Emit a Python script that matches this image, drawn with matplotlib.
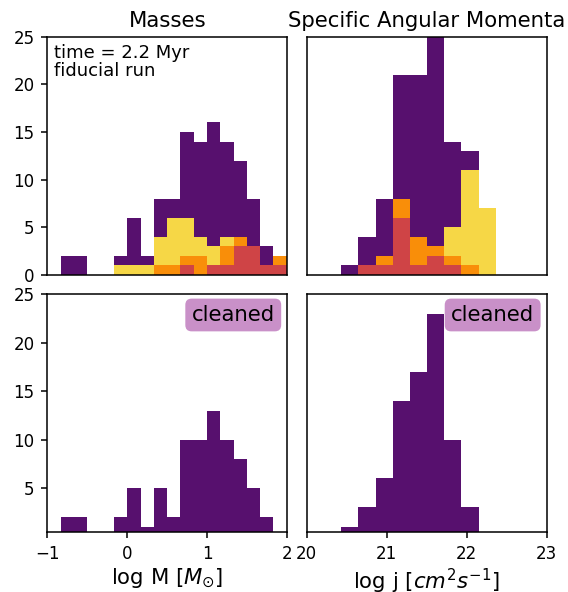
import numpy as np
import matplotlib
matplotlib.use("Agg")
import matplotlib.pyplot as plt

# ---------------- data ----------------
mass_edges = [-0.83, -0.664, -0.498, -0.332, -0.166, 0.0, 0.166, 0.332, 0.498,
              0.664, 0.83, 0.996, 1.162, 1.328, 1.494, 1.66, 1.826, 1.992]
mass_all    = [2, 2, 0, 0, 2, 6, 2, 8, 8, 15, 14, 16, 14, 12, 8, 3, 2]
mass_yellow = [0, 0, 0, 0, 1, 1, 1, 4, 6, 6, 4, 3, 4, 4, 3, 1, 2]
mass_orange = [0, 0, 0, 0, 0, 0, 0, 1, 1, 2, 2, 0, 3, 4, 3, 1, 2]
mass_red    = [0, 0, 0, 0, 0, 0, 0, 0, 0, 1, 0, 1, 1, 3, 3, 1, 1]
mass_clean  = [2, 2, 0, 0, 2, 5, 1, 5, 2, 10, 10, 13, 10, 8, 5, 2, 0]

j_edges = [20.43, 20.645, 20.86, 21.074, 21.289, 21.504, 21.719, 21.934, 22.148, 22.363]
j_all    = [1, 4, 8, 21, 21, 25, 14, 13, 7]
j_yellow = [0, 1, 2, 8, 4, 3, 5, 11, 7]
j_orange = [0, 1, 2, 8, 4, 3, 2, 1, 0]
j_red    = [0, 1, 1, 6, 1, 2, 1, 0, 0]
j_clean  = [1, 3, 6, 14, 17, 23, 10, 3, 0]

mass_ticks = [-1, 0, 1, 2]
j_ticks = [20, 21, 22, 23]
y_ticks_top = [0, 5, 10, 15, 20, 25]
y_ticks_bot = [5, 10, 15, 20, 25]

# ---------------- style ----------------
C_PURPLE = '#57106e'
C_YELLOW = '#f6d746'
C_ORANGE = '#f98e09'
C_RED = '#cf4446'
BOX = '#c990c8'

TITLE_FS = 15.3
TICK_FS = 12
TEXT_FS = 13

plt.rcParams['font.family'] = ['DejaVu Sans']
plt.rcParams['axes.linewidth'] = 1.1

fig = plt.figure(figsize=(5.68, 5.92), dpi=100)
W, H = 568.0, 592.0
def add_ax(x0, y0, x1, y1):
    return fig.add_axes([x0 / W, 1 - y1 / H, (x1 - x0) / W, (y1 - y0) / H])

ax_tl = add_ax(47.3, 36.7, 287.3, 275.0)
ax_tr = add_ax(306.7, 36.7, 546.7, 275.0)
ax_bl = add_ax(47.3, 294.3, 287.3, 531.7)
ax_br = add_ax(306.7, 294.3, 546.7, 531.7)

def draw(ax, edges, series):
    for vals, col in series:
        ax.stairs(vals, edges, fill=True, color=col, linewidth=0)

draw(ax_tl, mass_edges, [(mass_all, C_PURPLE), (mass_yellow, C_YELLOW),
                         (mass_orange, C_ORANGE), (mass_red, C_RED)])
draw(ax_tr, j_edges, [(j_all, C_PURPLE), (j_yellow, C_YELLOW),
                      (j_orange, C_ORANGE), (j_red, C_RED)])
draw(ax_bl, mass_edges, [(mass_clean, C_PURPLE)])
draw(ax_br, j_edges, [(j_clean, C_PURPLE)])

for ax in (ax_tl, ax_bl):
    ax.set_xlim(-1, 2)
for ax in (ax_tr, ax_br):
    ax.set_xlim(20, 23)
ax_tl.set_ylim(0, 25)
ax_tr.set_ylim(0, 25)
ax_bl.set_ylim(0.5, 25)
ax_br.set_ylim(0.5, 25)

for ax in (ax_tl, ax_tr, ax_bl, ax_br):
    ax.tick_params(labelsize=TICK_FS, length=4.3, width=1.1, pad=5)

ax_tl.set_yticks(y_ticks_top)
ax_bl.set_yticks(y_ticks_bot)
ax_bl.set_xticks(mass_ticks)
ax_br.set_xticks(j_ticks)
ax_tl.tick_params(axis='x', bottom=False, labelbottom=False)
ax_tr.tick_params(axis='x', bottom=False, labelbottom=False)
ax_tr.tick_params(axis='y', left=False, labelleft=False)
ax_br.tick_params(axis='y', left=False, labelleft=False)

ax_tl.set_title('Masses', fontsize=TITLE_FS, pad=7)
ax_tr.set_title('Specific Angular Momenta', fontsize=TITLE_FS, pad=7)
ax_bl.set_xlabel(r'log M [$M_{\odot}$]', fontsize=TITLE_FS, labelpad=3)
ax_br.set_xlabel(r'log j [$cm^2s^{-1}$]', fontsize=TITLE_FS, labelpad=3)

ax_tl.text(0.03, 0.97, 'time = 2.2 Myr\nfiducial run', transform=ax_tl.transAxes,
           ha='left', va='top', fontsize=TEXT_FS, linespacing=1.0)

for ax in (ax_bl, ax_br):
    ax.text(0.948, 0.955, 'cleaned', transform=ax.transAxes, ha='right', va='top',
            fontsize=TITLE_FS,
            bbox=dict(boxstyle='round,pad=0.3', facecolor=BOX, edgecolor='none'))

fig.savefig('out.png', dpi=100)
